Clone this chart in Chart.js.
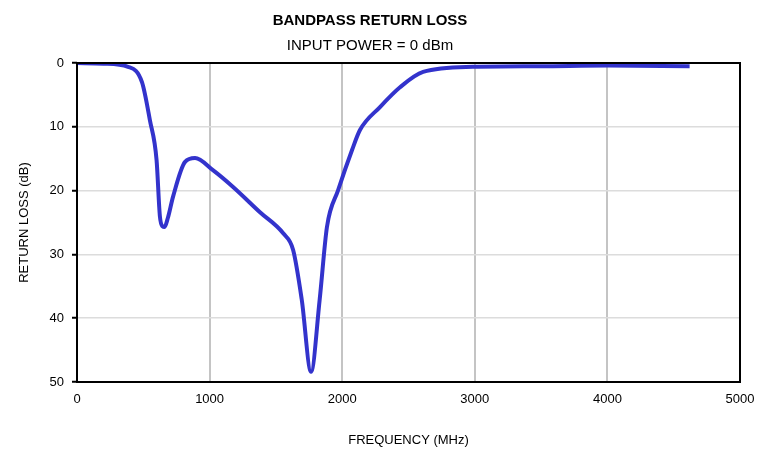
<!DOCTYPE html>
<html>
<head>
<meta charset="utf-8">
<script src="https://cdn.jsdelivr.net/npm/chart.js@4"></script>
<style>
  html, body { margin: 0; padding: 0; background: #fff; }
  #wrap { width: 769px; height: 452px; }
</style>
</head>
<body>
<div id="wrap"><canvas id="chart" width="769" height="452"></canvas></div>
<script>
const freqMHz = [0, 200, 385, 490, 550, 600, 625, 645, 660, 685, 725, 815, 890, 1025, 1175, 1380, 1555, 1630, 1695, 1765, 1830, 1885, 1970, 2075, 2134, 2285, 2436, 2610, 2986, 3500, 4000, 4620];
const returnLoss = [0, 0.1, 0.6, 3.0, 9, 15.2, 24, 25.6, 25.7, 24.3, 20.9, 15.5, 14.9, 16.8, 19.4, 23.4, 26.7, 29.3, 37.1, 48.4, 37.1, 25.7, 19.9, 13.6, 10.5, 6.9, 3.8, 1.4, 0.6, 0.5, 0.4, 0.5];
const xTicks = [0, 1000, 2000, 3000, 4000, 5000];
const yTicks = [0, 10, 20, 30, 40, 50];

const fontFamily = '"Liberation Sans", Arial, sans-serif';

const boxPlugin = {
  id: "box",
  afterDatasetsDraw(chart) {
    const { ctx, chartArea: a } = chart;
    ctx.save();
    ctx.strokeStyle = "#000";
    ctx.lineWidth = 2;
    ctx.strokeRect(a.left, a.top, a.right - a.left, a.bottom - a.top);
    ctx.restore();
  },
};

new Chart(document.getElementById("chart").getContext("2d"), {
  type: "line",
  data: {
    datasets: [
      {
        data: freqMHz.map((f, i) => ({ x: f, y: returnLoss[i] })),
        borderColor: "rgb(51, 51, 204)",
        borderWidth: 4,
        pointRadius: 0,
        cubicInterpolationMode: "monotone",
        fill: false,
      },
    ],
  },
  options: {
    responsive: false,
    animation: false,
    layout: { padding: { top: 12, left: 0, right: 29, bottom: 0 } },
    plugins: {
      legend: { display: false },
      tooltip: { enabled: false },
      title: {
        display: true,
        text: "BANDPASS RETURN LOSS",
        color: "#000",
        font: { family: fontFamily, size: 15, weight: "bold" },
        padding: { top: 0, bottom: 7 },
      },
      subtitle: {
        display: true,
        text: "INPUT POWER = 0 dBm",
        color: "#000",
        font: { family: fontFamily, size: 15 },
        padding: { top: 0, bottom: 8 },
      },
    },
    scales: {
      x: {
        type: "linear",
        min: 0,
        max: 5000,
        afterBuildTicks: (s) => { s.ticks = xTicks.map((v) => ({ value: v })); },
        afterFit: (s) => { s.height = 70; },
        ticks: { color: "#000", font: { family: fontFamily, size: 13 }, padding: 10, maxRotation: 0, callback: (v) => String(v) },
        grid: { color: "#c4c4c4", lineWidth: 2, drawTicks: false },
        border: { display: false },
        title: {
          display: true,
          text: "FREQUENCY (MHz)",
          color: "#000",
          font: { family: fontFamily, size: 13 },
          padding: { top: 0, bottom: 4 },
        },
      },
      y: {
        min: 0,
        max: 50,
        reverse: true,
        afterBuildTicks: (s) => { s.ticks = yTicks.map((v) => ({ value: v })); },
        afterFit: (s) => { s.width = 77; },
        ticks: { color: "#000", font: { family: fontFamily, size: 13 }, padding: 8, callback: (v) => String(v) },
        grid: { color: "#dcdcdc", lineWidth: 1.5, tickColor: "#000", tickLength: 5, tickWidth: 2 },
        border: { display: false },
        title: {
          display: true,
          text: "RETURN LOSS (dB)",
          color: "#000",
          font: { family: fontFamily, size: 13 },
          padding: { top: 17, bottom: 0 },
        },
      },
    },
  },
  plugins: [boxPlugin],
});
</script>
</body>
</html>
